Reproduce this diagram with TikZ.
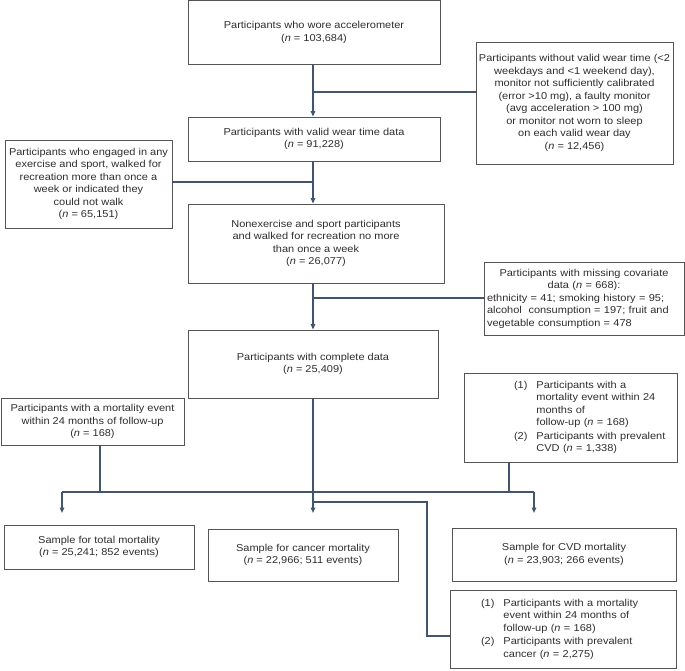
\documentclass[tikz,border=0pt]{standalone}
\usepackage{fontspec}
\setmainfont{Liberation Sans}[FakeStretch=1.1]
\usetikzlibrary{arrows.meta,calc}
\definecolor{lnc}{HTML}{42556C}
\definecolor{bxc}{HTML}{555555}
\definecolor{txc}{HTML}{2E2E2E}
\begin{document}
\begin{tikzpicture}[x=1pt,y=-1pt,
  box/.style={draw=bxc,line width=0.8pt,inner sep=0pt,text=txc,align=center,
    font=\fontsize{10}{12.5}\selectfont},
  flow/.style={draw=lnc,line width=1.4pt},
  arr/.style={flow,-{Triangle[length=5.5pt,width=4.5pt]}}]
\useasboundingbox (0,0) rectangle (685,670);
% main column
\node[box,minimum width=252,minimum height=64] (A) at (314,32.5)
  {Participants who wore accelerometer\\(\textit{n} = 103,684)};
\node[box,minimum width=252,minimum height=44] (B) at (314,139)
  {Participants with valid wear time data\\(\textit{n} = 91,228)};
\node[box,minimum width=256,minimum height=79] (C) at (316,243.5)
  {Nonexercise and sport participants\\and walked for recreation no more\\than once a week\\(\textit{n} = 26,077)};
\node[box,minimum width=250,minimum height=68] (D) at (313,364)
  {Participants with complete data\\(\textit{n} = 25,409)};
% exclusions
\node[box,minimum width=197,minimum height=122] (E1) at (574.5,103)
  {Participants without valid wear time (<2\\weekdays and <1 weekend day),\\monitor not sufficiently calibrated\\(error >10 mg), a faulty monitor\\(avg acceleration > 100 mg)\\or monitor not worn to sleep\\on each valid wear day\\(\textit{n} = 12,456)};
\node[box,minimum width=167,minimum height=88] (L1) at (88.5,184)
  {Participants who engaged in any\\exercise and sport, walked for\\recreation more than once a\\week or indicated they\\could not walk\\(\textit{n} = 65,151)};
\node[box,minimum width=200,minimum height=73,text width=194pt,align=left] (E2) at (584,298.5)
  {{\centering Participants with missing covariate\\data (\textit{n} = 668):\par}
   ethnicity = 41; smoking history = 95;\\alcohol\ \ consumption = 197; fruit and\\vegetable consumption = 478};
\node[box,minimum width=183,minimum height=47] (M1) at (92.5,421.5)
  {Participants with a mortality event\\within 24 months of follow-up\\(\textit{n} = 168)};
\node[box,minimum height=89,text width=213pt,align=left] (M2) at (570.5,417.5)
  {\begin{tabular}{@{\hspace{50pt}}l@{\hspace{9pt}}l@{}}
   (1) & Participants with a\\ & mortality event within 24\\ & months of\\ & follow-up (\textit{n} = 168)\\[1pt]
   (2) & Participants with prevalent\\ & CVD (\textit{n} = 1,338)\end{tabular}};
% outcome samples
\node[box,minimum width=190,minimum height=44] (T) at (99,547)
  {Sample for total mortality\\(\textit{n} = 25,241; 852 events)};
\node[box,minimum width=190,minimum height=52] (Ca) at (303,555)
  {Sample for cancer mortality\\(\textit{n} = 22,966; 511 events)};
\node[box,minimum width=224,minimum height=53] (CVD) at (564,554.5)
  {Sample for CVD mortality\\(\textit{n} = 23,903; 266 events)};
\node[box,minimum height=78,text width=226pt,align=left] (Bt) at (563,629)
  {\begin{tabular}{@{\hspace{31pt}}l@{\hspace{9pt}}l@{}}
   (1) & Participants with a mortality\\ & event within 24 months of\\ & follow-up (\textit{n} = 168)\\[1pt]
   (2) & Participants with prevalent\\ & cancer (\textit{n} = 2,275)\end{tabular}};
% junction coordinates
\coordinate (j1) at (313,92);
\coordinate (j2) at (313,182);
\coordinate (j3) at (313,298);
\coordinate (hL) at (62,492);
\coordinate (hC) at (313,492);
\coordinate (hR) at (534,492);
\coordinate (tL) at (62,513);
\coordinate (tC) at (313,513);
\coordinate (tR) at (534,513);
\coordinate (m1b) at (100,492);
\coordinate (m2s) at (509,462);
\coordinate (m2b) at (509,492);
\coordinate (br0) at (313,502);
\coordinate (br1) at (427,502);
\coordinate (br2) at (427,636);
\coordinate (btw) at (450,636);
% connectors
\draw[arr] (A.south -| j1) -- (B.north -| j1);
\draw[flow] (j1) -- (j1 -| E1.west);
\draw[arr] (B.south -| j2) -- (C.north -| j2);
\draw[flow] (j2) -- (j2 -| L1.east);
\draw[arr] (C.south -| j3) -- (D.north -| j3);
\draw[flow] (j3) -- (j3 -| E2.west);
\draw[flow] (D.south -| hC) -- (hC);
\draw[flow] (hL) -- (hR);
\draw[flow] (M1.south -| m1b) -- (m1b);
\draw[flow] (m2s) -- (m2b);
\draw[arr] (hL) -- (tL);
\draw[arr] (hC) -- (tC);
\draw[arr] (hR) -- (tR);
\draw[flow] (br0) -- (br1) -- (br2) -- (btw);
\end{tikzpicture}
\end{document}
